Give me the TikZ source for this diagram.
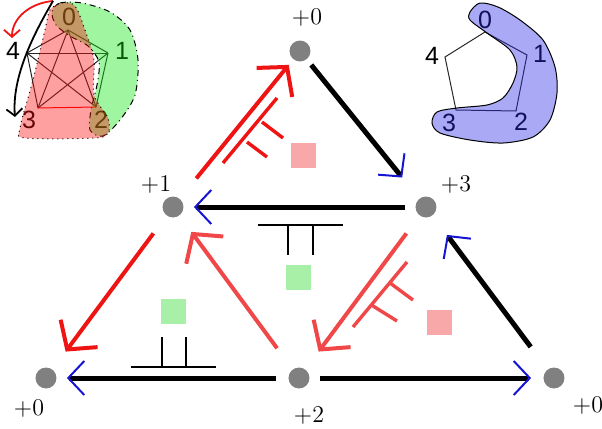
\documentclass[tikz,border=0pt]{standalone}
\usepackage{fontspec}
\newfontfamily\insetfont{Liberation Sans}
\usetikzlibrary{arrows.meta, positioning, calc}
\definecolor{dotgrey}{RGB}{128,128,128}
\definecolor{mainred}{RGB}{238,20,20}
\definecolor{softred}{RGB}{240,72,72}
\definecolor{tipblue}{RGB}{20,20,210}
\definecolor{pinkbox}{RGB}{248,168,168}
\definecolor{greenbox}{RGB}{168,240,168}
\definecolor{regred}{RGB}{255,17,17}
\definecolor{reggreen}{RGB}{17,230,17}
\definecolor{blobblue}{RGB}{40,40,230}

\begin{document}
\begin{tikzpicture}[x=0.5pt, y=-0.5pt,
    dot/.style={circle, fill=dotgrey, minimum size=10.5pt, inner sep=0pt},
    lbl/.style={font=\fontsize{12}{14}\selectfont, inner sep=1pt},
    move/.style={draw=black, line width=2.5pt,
      -{Straight Barb[color=tipblue, line width=1pt, length=8pt, width=17pt]}},
    hop/.style={draw=mainred, line width=2pt, -{Straight Barb[length=10pt, width=23pt]}},
    softhop/.style={hop, draw=softred},
    fork/.style={line width=0.8pt},
    redfork/.style={line width=1.7pt, draw=mainred},
    tile/.style={minimum size=12.5pt, inner sep=0pt},
    vtx/.style={font=\insetfont\fontsize{12.5}{14}\selectfont, inner sep=0pt},
    wire/.style={line width=0.5pt, draw=black!85},
    zone/.style={fill opacity=0.4, line width=0.5pt},
    swing/.style={line width=0.9pt, -{Straight Barb[length=3.5pt, width=8pt]}}
  ]
  \useasboundingbox (0,0) rectangle (602,429);

  % left inset
  \foreach \n/\x/\y in {0/68/30, 1/108/53, 2/96/107, 3/38/108, 4/27/53}
    \coordinate (a\n) at (\x,\y);
  \foreach \i/\j in {0/1,0/2,0/3,0/4,1/2,1/3,1/4,2/4,3/4}
    \draw[wire] (a\i) -- (a\j);
  \draw[wire, draw=red] (a3) -- (a2);
  \foreach \n/\x/\y in {0/69/17, 1/122/51, 2/101/120, 3/29/120, 4/13/51}
    \node[vtx] (la\n) at (\x,\y) {\n};
  \draw[zone, fill=reggreen, dash dot] plot[smooth cycle] coordinates {
    (52,12) (60,3) (82,3) (110,12) (130,30) (138,60) (135,95) (120,120)
    (103,136) (90,130) (91,110) (97,85) (99,62) (88,46) (70,36) (56,25)};
  \draw[zone, fill=regred, dotted] plot[smooth cycle] coordinates {
    (50,10) (62,3) (75,6) (85,30) (94,60) (94,95) (108,118) (108,133)
    (95,138) (25,138) (20,128) (33,80) (45,30)};
  \coordinate (sw) at (53,1);
  \coordinate (swa) at (12,38);
  \coordinate (swb) at (15,117);
  \draw[swing, draw=mainred] (sw) .. controls (30,3) and (12,18) .. (swa);
  \draw[swing] (sw) .. controls (30,40) and (12,80) .. (swb);

  % right inset
  \foreach \n/\x/\y in {0/485/32, 1/527/55, 2/516/111, 3/456/110, 4/445/57}
    \coordinate (b\n) at (\x,\y);
  \draw[wire] (b0) -- (b1) -- (b2) -- (b3) -- (b4) -- cycle;
  \foreach \n/\x/\y in {0/485/20, 1/540/54, 2/521/122, 3/449/123, 4/432/56}
    \node[vtx] (lb\n) at (\x,\y) {\n};
  \draw[zone, fill=blobblue] plot[smooth cycle] coordinates {
    (470,12) (480,3) (498,7) (520,20) (543,40) (555,67) (557,93) (550,120)
    (533,137) (503,143) (470,140) (440,133) (432,123) (437,112) (457,108)
    (487,105) (503,98) (513,83) (517,67) (510,50) (487,33) (470,20)};

  % main triangle
  \node[dot] (vtop) at (300,51) {};
  \node[dot] (vone) at (173,207) {};
  \node[dot] (vthree) at (426,207) {};
  \node[dot] (vzl) at (46,378) {};
  \node[dot] (vtwo) at (299,378) {};
  \node[dot] (vzr) at (554,378) {};

  \node[lbl] (ltop) at ([shift={(7,-34)}]vtop) {+0};
  \node[lbl] (lone) at ([shift={(-17,-23)}]vone) {+1};
  \node[lbl] (lthree) at ([shift={(30,-23)}]vthree) {+3};
  \node[lbl] (lzl) at ([shift={(-17,30)}]vzl) {+0};
  \node[lbl] (ltwo) at ([shift={(10,37)}]vtwo) {+2};
  \node[lbl] (lzr) at ([shift={(34,27)}]vzr) {+0};

  \draw[move, shorten <=3.5pt, shorten >=13.5pt] (vtop) -- (vthree);
  \draw[move, shorten <=5pt, shorten >=5pt] (vthree) -- (vone);
  \draw[hop, shorten <=13pt, shorten >=3.5pt] (vone) -- (vtop);
  \draw[hop, shorten <=11pt, shorten >=11pt] (vone) -- (vzl);
  \draw[softhop, shorten <=13pt, shorten >=10pt] (vtwo) -- (vone);
  \draw[move, shorten <=6pt, shorten >=5pt] (vtwo) -- (vzl);
  \draw[softhop, shorten <=11pt, shorten >=11pt] (vthree) -- (vtwo);
  \draw[move, shorten <=14pt, shorten >=12pt] (vzr) -- (vthree);
  \draw[move, shorten <=5pt, shorten >=6pt] (vtwo) -- (vzr);

  \node[tile, fill=pinkbox] (pa) at (304,155) {};
  \node[tile, fill=greenbox] (ga) at (299,277) {};
  \node[tile, fill=greenbox] (gb) at (174,311) {};
  \node[tile, fill=pinkbox] (pb) at (440,322) {};

  \draw[redfork] (223,163) -- (277,98) (247,142) -- (267,157) (262,122) -- (283,138);
  \draw[redfork, draw=softred] (353,327) -- (407,262) (373,306) -- (397,321) (390,283) -- (413,300);
  \draw[fork] (258,225) -- (343,225) (288,225) -- (288,255) (313,225) -- (313,255);
  \draw[fork] (131,367) -- (216,367) (162,367) -- (162,337) (186,367) -- (186,337);
\end{tikzpicture}
\end{document}
